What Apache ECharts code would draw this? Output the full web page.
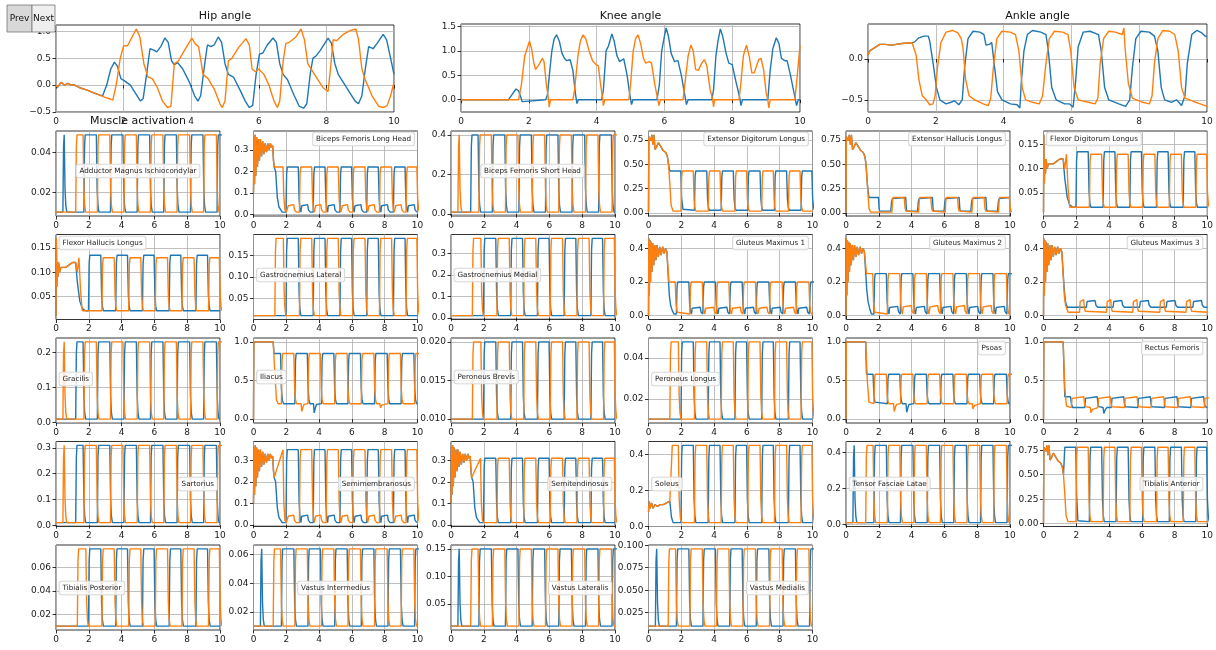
<!DOCTYPE html>
<html>
<head>
<meta charset="utf-8">
<script src="https://cdn.jsdelivr.net/npm/echarts@6/dist/echarts.min.js"></script>
<style>
  html, body { margin: 0; padding: 0; background: #fff; }
  #chart { width: 1216px; height: 650px; }
</style>
</head>
<body>
<div id="chart"></div>
<script>
// ---------- data ----------
const X_TICKS = [0, 2, 4, 6, 8, 10];
const HIP_TICKS = [-0.5, 0, 0.5, 1.0];
const KNEE_TICKS = [0, 0.5, 1.0, 1.5];
const ANKLE_TICKS = [-0.5, 0];

// joint angles, [time, value]
const hipBlue = [[0,0],[0.05,-0.04],[0.15,0.05],[0.25,0],[0.35,0.03],[0.45,0],[0.55,0],[0.7,-0.05],[0.9,-0.09],[1.1,-0.14],[1.3,-0.19],[1.38,-0.2],
  [1.5,0],[1.62,0.3],[1.73,0.43],[1.82,0.35],[1.92,0.12],[2.05,0.07],[2.2,0],[2.35,-0.15],[2.5,-0.3],[2.58,-0.25],[2.68,0.2],[2.78,0.68],[2.88,0.66],[2.98,0.62],[3.1,0.72],[3.22,0.88],[3.32,0.8],[3.42,0.45],[3.5,0.38],[3.6,0.42],[3.75,0.3],[3.95,0.05],[4.1,-0.2],[4.2,-0.3],[4.28,-0.2],[4.4,0.4],[4.48,0.75],[4.58,0.72],[4.68,0.75],[4.8,0.9],[4.9,0.8],[5.0,0.4],[5.1,0.2],[5.25,0.15],[5.45,-0.1],[5.6,-0.3],[5.72,-0.42],[5.82,-0.38],[5.92,0.2],[6.02,0.58],[6.12,0.6],[6.25,0.75],[6.42,0.88],[6.52,0.8],[6.62,0.4],[6.72,0.2],[6.85,0.1],[7.05,-0.2],[7.2,-0.4],[7.33,-0.43],[7.42,-0.35],[7.52,0.2],[7.6,0.5],[7.7,0.55],[7.82,0.65],[8.05,0.88],[8.15,0.78],[8.25,0.4],[8.35,0.2],[8.5,0.05],[8.7,-0.15],[8.85,-0.3],[8.95,-0.35],[9.05,-0.2],[9.15,0.3],[9.25,0.72],[9.38,0.68],[9.5,0.78],[9.68,0.95],[9.78,0.85],[9.9,0.5],[10,0.2]];
const hipOrange = [[0,0],[0.05,-0.04],[0.15,0.05],[0.25,0],[0.35,0.03],[0.45,0],[0.55,0],[0.7,-0.05],[0.9,-0.09],[1.1,-0.14],[1.3,-0.19],[1.45,-0.23],[1.6,-0.26],[1.68,-0.28],
  [1.78,0],[1.9,0.5],[2.0,0.73],[2.12,0.74],[2.25,0.9],[2.38,1.05],[2.48,0.9],[2.6,0.4],[2.72,0.15],[2.85,0.12],[3.0,-0.05],[3.15,-0.3],[3.3,-0.42],[3.4,-0.4],[3.5,0.4],[3.62,0.45],[3.8,0.65],[4.02,0.88],[4.12,0.77],[4.22,0.72],[4.35,0.2],[4.5,0.12],[4.7,-0.1],[4.85,-0.35],[4.92,-0.42],[5.0,-0.3],[5.1,0.45],[5.2,0.5],[5.4,0.7],[5.62,0.87],[5.72,0.75],[5.8,0.3],[5.9,0.25],[6.0,0.3],[6.15,0.2],[6.3,0],[6.45,-0.3],[6.55,-0.42],[6.62,-0.3],[6.72,0.45],[6.8,0.78],[6.9,0.8],[7.1,0.9],[7.25,1.05],[7.35,0.85],[7.45,0.4],[7.55,0.3],[7.7,0.15],[7.9,-0.05],[8.05,-0.12],[8.12,0.3],[8.2,0.85],[8.3,0.83],[8.5,0.95],[8.7,1.02],[8.87,1.05],[8.95,0.85],[9.05,0.3],[9.15,0.1],[9.35,-0.2],[9.55,-0.4],[9.7,-0.42],[9.8,-0.38],[9.9,-0.2],[10,0.05]];
const kneeBlue = [[0,0],[1.4,0],[1.5,0.1],[1.62,0.22],[1.7,0.18],[1.78,0.02],[1.8,-0.04],[1.84,0],[2.5,0],[2.55,0.1],[2.62,0.6],[2.68,1.0],[2.75,1.25],[2.82,1.33],[2.9,1.2],[2.98,0.95],[3.05,0.85],[3.12,0.8],[3.22,0.82],[3.3,0.6],[3.38,0.1],[3.42,-0.08],[3.46,0],
  [4.15,0],[4.2,0.2],[4.28,1.0],[4.35,1.1],[4.45,1.35],[4.52,1.2],[4.6,0.9],[4.68,0.78],[4.8,0.84],[4.9,0.5],[4.98,0.1],[5.03,-0.1],[5.07,0],[5.78,0],[5.85,0.3],[5.92,1.0],[6.0,1.3],[6.05,1.47],[6.12,1.3],[6.2,0.95],[6.3,0.78],[6.4,0.8],[6.5,0.5],[6.6,0.1],[6.65,-0.1],[6.7,0],
  [7.4,0],[7.45,0.2],[7.52,0.9],[7.58,1.2],[7.65,1.45],[7.72,1.3],[7.82,0.95],[7.9,0.75],[8.0,0.72],[8.1,0.4],[8.22,0.05],[8.26,-0.12],[8.3,0],[9.05,0],[9.12,0.6],[9.2,1.05],[9.3,1.27],[9.38,1.15],[9.45,0.85],[9.55,0.8],[9.62,0.8],[9.72,0.5],[9.85,0.05],[9.9,-0.12],[9.95,0],[10,0]];
const kneeOrange = [[0,0],[1.7,0],[1.78,0.3],[1.88,0.9],[1.95,1.05],[2.02,1.2],[2.08,1.05],[2.15,0.75],[2.2,0.62],[2.3,0.72],[2.4,0.85],[2.45,0.78],[2.52,0.3],[2.58,0.02],[2.6,-0.15],[2.64,0],
  [3.3,0],[3.35,0.2],[3.45,0.9],[3.52,1.2],[3.6,1.33],[3.68,1.25],[3.78,1.0],[3.88,0.8],[3.98,0.72],[4.05,0.7],[4.12,0.3],[4.18,0.02],[4.2,-0.12],[4.24,0],[4.95,0],[5.0,0.3],[5.08,1.0],[5.15,1.25],[5.22,1.33],[5.3,1.15],[5.38,0.85],[5.45,0.75],[5.55,0.78],[5.62,0.75],[5.72,0.3],[5.8,0.02],[5.84,-0.12],[5.88,0],
  [6.55,0],[6.6,0.3],[6.7,0.9],[6.78,1.12],[6.85,1.0],[6.92,0.62],[7.0,0.6],[7.1,0.75],[7.18,0.82],[7.25,0.7],[7.35,0.2],[7.42,0.02],[7.45,-0.15],[7.48,0],[8.2,0],[8.25,0.3],[8.33,0.9],[8.42,1.12],[8.5,0.9],[8.58,0.55],[8.65,0.55],[8.78,0.82],[8.85,0.85],[8.93,0.6],[9.0,0.15],[9.05,0],[9.08,-0.17],[9.12,0],[9.85,0],[9.92,0.5],[10,1.12]];
const ankleBlue = [[0,0.05],[0.05,0.1],[0.2,0.14],[0.35,0.18],[0.5,0.18],[0.7,0.17],[1.0,0.19],[1.3,0.2],[1.38,0.21],[1.5,0.26],[1.65,0.28],[1.78,0.28],[1.82,0.22],[1.92,-0.05],[2.02,-0.35],[2.12,-0.5],[2.3,-0.55],[2.45,-0.53],[2.55,-0.51],[2.68,-0.56],[2.78,-0.5],[2.85,-0.1],[2.95,0.25],[3.1,0.34],[3.3,0.33],[3.42,0.3],[3.48,0.17],[3.58,0.18],[3.65,0.2],[3.72,-0.05],[3.82,-0.4],[3.95,-0.5],[4.2,-0.55],[4.4,-0.56],[4.48,-0.6],[4.52,-0.3],[4.6,0.1],[4.7,0.3],[4.85,0.35],[5.1,0.33],[5.25,0.3],[5.32,0.1],[5.42,-0.35],[5.55,-0.5],[5.8,-0.55],[5.95,-0.55],[6.05,-0.59],[6.12,-0.3],[6.2,0.15],[6.35,0.33],[6.55,0.34],[6.8,0.3],[6.88,0.1],[6.98,-0.35],[7.1,-0.5],[7.4,-0.55],[7.6,-0.58],[7.72,-0.5],[7.8,-0.1],[7.9,0.25],[8.05,0.34],[8.3,0.33],[8.45,0.28],[8.55,0.1],[8.65,-0.35],[8.75,-0.5],[8.95,-0.53],[9.1,-0.5],[9.25,-0.57],[9.35,-0.45],[9.42,-0.05],[9.55,0.3],[9.7,0.35],[9.85,0.32],[9.95,0.28],[10,0.27]];
const ankleOrange = [[0,0.05],[0.05,0.1],[0.2,0.14],[0.35,0.18],[0.5,0.18],[0.7,0.17],[1.0,0.19],[1.3,0.2],[1.35,0.21],[1.42,0.05],[1.5,-0.25],[1.6,-0.45],[1.72,-0.5],[1.82,-0.56],[1.92,-0.55],[1.98,-0.45],[2.05,-0.1],[2.15,0.2],[2.3,0.33],[2.5,0.35],[2.65,0.32],[2.7,0.33],[2.75,0.25],[2.8,0.15],[2.88,-0.25],[2.98,-0.45],[3.15,-0.5],[3.4,-0.55],[3.55,-0.57],[3.62,-0.48],[3.7,-0.1],[3.8,0.25],[3.95,0.34],[4.2,0.33],[4.35,0.3],[4.45,0.1],[4.55,-0.35],[4.65,-0.5],[4.85,-0.53],[5.05,-0.55],[5.15,-0.45],[5.25,-0.05],[5.35,0.25],[5.5,0.34],[5.75,0.33],[5.9,0.3],[5.98,0.1],[6.08,-0.35],[6.2,-0.5],[6.5,-0.53],[6.7,-0.55],[6.78,-0.48],[6.85,-0.05],[6.95,0.25],[7.1,0.34],[7.3,0.33],[7.5,0.3],[7.55,0.38],[7.58,0.15],[7.68,-0.3],[7.8,-0.48],[8.1,-0.53],[8.3,-0.55],[8.38,-0.45],[8.45,-0.05],[8.55,0.25],[8.7,0.35],[8.9,0.34],[9.05,0.3],[9.15,0.1],[9.25,-0.35],[9.35,-0.48],[9.6,-0.52],[9.8,-0.55],[10,-0.58]];

// muscle activation: on-intervals [start, end] of the square pulses
const SPIKE = [[0.42, 0.5]];
const S1 = [[1.2,1.65],[2.52,3.28],[4.14,4.9],[5.76,6.52],[7.38,8.15],[9.0,9.78]];
const S2 = [[1.7,2.46],[3.32,4.08],[4.95,5.71],[6.57,7.34],[8.2,8.96],[9.82,10.4]];
const G1 = [[1.3,1.82],[2.8,3.55],[4.43,5.17],[6.05,6.8],[7.68,8.42],[9.3,9.96]];
const G2 = [[1.98,2.73],[3.64,4.36],[5.27,5.98],[6.9,7.61],[8.53,9.24]];
const HAM_BUMP_B = [[2.9,3.3],[4.52,4.92],[6.15,6.55],[7.77,8.17],[9.4,9.8]];
const HAM_BUMP_O = [[2.08,2.45],[3.74,4.1],[5.37,5.73],[7.0,7.36],[8.63,9.0]];
const GM_BUMP_B = [[2.62,3.15],[4.25,4.78],[5.87,6.4],[7.5,8.03],[9.12,9.65]];
const GM_BUMP_O = [[3.45,3.98],[5.08,5.6],[6.7,7.22],[8.32,8.85]];
const GM3_BUMP_O = [[2.2,2.45],[3.85,4.1],[5.45,5.7],[7.1,7.35],[8.7,8.95]];

// start-up transients, [time, value]
const HAM_HEAD = [[0,0.1],[0.03,0.36],[0.06,0.14],[0.1,0.37],[0.14,0.18],[0.19,0.36],[0.24,0.22],[0.3,0.35],[0.36,0.25],[0.42,0.35],[0.49,0.27],[0.56,0.34],[0.63,0.28],[0.71,0.33],[0.79,0.29],[0.87,0.33],[0.95,0.3],[1.03,0.33],[1.1,0.31],[1.17,0.32],[1.22,0.25],[1.26,0.22]];
const GLUT_HEAD = [[0,0],[0.02,0.46],[0.05,0.12],[0.08,0.45],[0.12,0.2],[0.16,0.44],[0.21,0.26],[0.26,0.43],[0.32,0.3],[0.38,0.42],[0.45,0.33],[0.52,0.42],[0.6,0.35],[0.68,0.41],[0.77,0.36],[0.86,0.41],[0.95,0.37],[1.04,0.4],[1.12,0.38],[1.2,0.39]];
const EDL_HEAD = [[0,0.01],[0.02,0.78],[0.08,0.8],[0.15,0.74],[0.2,0.8],[0.27,0.7],[0.33,0.8],[0.4,0.65],[0.5,0.68],[0.6,0.72],[0.75,0.68],[0.9,0.64],[1.05,0.62],[1.15,0.58],[1.22,0.5]];
const FLEX_HEAD = [[0,0.01],[0.02,0.17],[0.05,0.07],[0.08,0.12],[0.12,0.09],[0.16,0.12],[0.22,0.1],[0.3,0.11],[0.45,0.11],[0.6,0.11],[0.8,0.115],[1.0,0.12],[1.2,0.12]];
const SOL_HEAD = [[0,0.08],[0.04,0.14],[0.1,0.1],[0.18,0.13],[0.28,0.1],[0.4,0.12],[0.55,0.11],[0.7,0.12],[0.9,0.12],[1.1,0.13],[1.3,0.14]];
const HIP_FLEX_HEAD = [[0,0],[0.02,1.0],[1.2,1.0]];

const MUSCLE_NAMES = [
  'Adductor Magnus Ischiocondylar', 'Biceps Femoris Long Head', 'Biceps Femoris Short Head', 'Extensor Digitorum Longus', 'Extensor Hallucis Longus', 'Flexor Digitorum Longus',
  'Flexor Hallucis Longus', 'Gastrocnemius Lateral', 'Gastrocnemius Medial', 'Gluteus Maximus 1', 'Gluteus Maximus 2', 'Gluteus Maximus 3',
  'Gracilis', 'Iliacus', 'Peroneus Brevis', 'Peroneus Longus', 'Psoas', 'Rectus Femoris',
  'Sartorius', 'Semimembranosus', 'Semitendinosus', 'Soleus', 'Tensor Fasciae Latae', 'Tibialis Anterior',
  'Tibialis Posterior', 'Vastus Intermedius', 'Vastus Lateralis', 'Vastus Medialis'
];
const MUSCLE_TICKS = [
  [0.02, 0.04], [0, 0.1, 0.2, 0.3], [0, 0.2, 0.4], [0, 0.25, 0.5, 0.75], [0, 0.25, 0.5, 0.75], [0.05, 0.1, 0.15],
  [0.05, 0.1, 0.15], [0.05, 0.1, 0.15], [0, 0.1, 0.2, 0.3], [0, 0.2, 0.4], [0, 0.2, 0.4], [0, 0.2, 0.4],
  [0, 0.1, 0.2], [0, 0.5, 1.0], [0.01, 0.015, 0.02], [0.02, 0.04], [0, 0.5, 1.0], [0, 0.5, 1.0],
  [0, 0.1, 0.2, 0.3], [0, 0.1, 0.2, 0.3], [0, 0.1, 0.2, 0.3], [0, 0.2, 0.4], [0, 0.2, 0.4], [0, 0.25, 0.5, 0.75],
  [0.02, 0.04, 0.06], [0.02, 0.04, 0.06], [0.05, 0.1, 0.15], [0.025, 0.05, 0.075, 0.1]
];

// ---------- helpers ----------
function lvl(list, h) { return list.map(p => [p[0], p[1], h]); }
function build(head, lo, segs) {
  const pts = (head || [[0, lo]]).map(p => p.slice());
  const s = segs.slice().sort((p, q) => p[0] - q[0]);
  s.forEach(([a, b, h], i) => {
    const next = i + 1 < s.length ? s[i + 1][0] : 99;
    const d = h - lo;
    pts.push([a, lo], [a + 0.04, lo + d * 0.85], [a + 0.08, h], [b, h]);
    [[0.05, 0.3], [0.1, 0.08], [0.16, 0]].forEach(([dt, f]) => {
      if (b + dt < next) pts.push([b + dt, lo + d * f]);
    });
  });
  if (pts[pts.length - 1][0] < 10) pts.push([10, pts[pts.length - 1][1]]);
  return pts;
}

const LO = 0.01;
const muscleBlue = [
  build(null, LO, lvl(SPIKE, 0.049).concat(lvl(S2, 0.049))),
  build(HAM_HEAD.concat([[1.35,0.2],[1.45,0.08],[1.55,0.035],[1.75,0.01]]), LO, lvl(G2, 0.22).concat(lvl(HAM_BUMP_B, 0.045))),
  build(null, LO, lvl(S1, 0.40)),
  build(EDL_HEAD.concat([[1.3,0.43],[1.97,0.43],[2.02,0.15],[2.1,0.04]]), 0.03, lvl(G1.slice(1), 0.43)),
  build(EDL_HEAD.concat([[1.3,0.3],[1.4,0.16]]), 0.16, lvl(G2, 0.02)),
  build(FLEX_HEAD.concat([[1.3,0.08],[1.45,0.04],[1.6,0.025],[1.8,0.02]]), 0.02, lvl(G2, 0.135)),
  build(FLEX_HEAD.concat([[1.3,0.08],[1.45,0.04],[1.6,0.025],[1.8,0.02]]), 0.02, lvl(G2, 0.135)),
  build(null, LO, lvl(G2, 0.19)),
  build(null, LO, lvl(G2, 0.37)),
  build(GLUT_HEAD.concat([[1.27,0.12],[1.35,0.06],[1.45,0.03],[1.55,0.01]]), LO, lvl(S2, 0.2).concat(lvl(GM_BUMP_B, 0.05))),
  build(GLUT_HEAD.concat([[1.27,0.15],[1.35,0.08],[1.45,0.04],[1.55,0.01]]), LO, lvl(S2, 0.25).concat(lvl(GM_BUMP_B, 0.055))),
  build(GLUT_HEAD.concat([[1.27,0.15],[1.35,0.08],[1.45,0.05],[1.7,0.05]]), 0.05, lvl(GM_BUMP_B, 0.09)),
  build(null, LO, lvl(S1, 0.23)),
  build(HIP_FLEX_HEAD.concat([[1.25,0.85],[1.65,0.85],[1.7,0.4],[1.76,0.24],[1.84,0.2]]), 0.2, lvl(S1.slice(1), 0.85).concat([[3.66,3.74,0.06]])),
  build(null, LO, lvl(G2, 0.02)),
  build(null, LO, lvl(G2, 0.048)),
  build(HIP_FLEX_HEAD.concat([[1.25,0.58],[1.65,0.58],[1.7,0.32],[1.76,0.22],[1.84,0.2]]), 0.2, lvl(S1.slice(1), 0.58).concat([[3.66,3.74,0.07]])),
  build(HIP_FLEX_HEAD.concat([[1.3,0.29],[1.65,0.29],[1.7,0.2],[1.78,0.15]]), 0.15, lvl(S1.slice(1), 0.29).concat([[3.64,3.72,0.06]])),
  build(null, LO, lvl(S1, 0.31)),
  build(HAM_HEAD.concat([[1.35,0.2],[1.45,0.08],[1.55,0.035],[1.75,0.01]]), LO, lvl(G2, 0.35).concat(lvl(HAM_BUMP_B, 0.045))),
  build(HAM_HEAD.concat([[1.35,0.2],[1.45,0.08],[1.55,0.035],[1.75,0.01]]), LO, lvl(G2, 0.31)),
  build(SOL_HEAD.concat([[1.4,0.05],[1.5,0.02]]), 0.02, lvl(G2, 0.45)),
  build(null, LO, lvl(SPIKE, 0.44).concat(lvl(S2, 0.44))),
  build(EDL_HEAD.concat([[1.3,0.78],[1.97,0.78],[2.02,0.3],[2.1,0.03]]), 0.02, lvl(G1.slice(1), 0.78)),
  build(null, LO, lvl(G2, 0.076)),
  build(null, LO, lvl(SPIKE, 0.064).concat(lvl(S2, 0.064))),
  build(null, LO, lvl(SPIKE, 0.15).concat(lvl(S2, 0.15))),
  build(null, LO, lvl(SPIKE, 0.096).concat(lvl(S2, 0.096)))
];
const muscleOrange = [
  build(null, LO, lvl(S1, 0.049)),
  build(HAM_HEAD.concat([[1.8,0.22],[1.85,0.08],[1.92,0.02],[2.0,0.01]]), LO, lvl(G1.slice(1), 0.22).concat(lvl(HAM_BUMP_O, 0.045))),
  build(null, LO, lvl(SPIKE, 0.40).concat(lvl(S2, 0.40))),
  build(EDL_HEAD.concat([[1.3,0.3],[1.38,0.08],[1.5,0.02]]), 0.02, lvl(G2, 0.43)),
  build(EDL_HEAD.concat([[1.3,0.3],[1.4,0.05],[1.5,0.01]]), 0.01, lvl(G1.slice(1), 0.16)),
  build(FLEX_HEAD.concat([[1.3,0.1],[1.4,0.13],[1.5,0.06],[1.6,0.02]]), 0.02, lvl(G1.slice(1), 0.13)),
  build(FLEX_HEAD.concat([[1.3,0.1],[1.4,0.13],[1.5,0.06],[1.6,0.02]]), 0.02, lvl(G1.slice(1), 0.13)),
  build(null, LO, lvl(G1, 0.19)),
  build(null, LO, lvl(G1, 0.37)),
  build(GLUT_HEAD.concat([[1.25,0.2],[1.63,0.2],[1.68,0.07],[1.75,0.02],[1.85,0.01]]), LO, lvl(S1.slice(1), 0.2).concat(lvl(GM_BUMP_O, 0.05))),
  build(GLUT_HEAD.concat([[1.25,0.25],[1.63,0.25],[1.68,0.08],[1.75,0.02],[1.85,0.01]]), LO, lvl(S1.slice(1), 0.25).concat(lvl(GM_BUMP_O, 0.06))),
  build(GLUT_HEAD.concat([[1.27,0.12],[1.35,0.06],[1.5,0.02]]), 0.02, lvl(GM3_BUMP_O, 0.095)),
  build(null, LO, lvl(SPIKE, 0.23).concat(lvl(S2, 0.23))),
  build(HIP_FLEX_HEAD.concat([[1.3,0.6],[1.4,0.25],[1.5,0.2]]), 0.2, lvl(S2, 0.85).concat([[2.9,2.98,0.08],[7.7,7.78,0.14]])),
  build(null, LO, lvl(G1, 0.02)),
  build(null, LO, lvl(G1, 0.048)),
  build(HIP_FLEX_HEAD.concat([[1.3,0.5],[1.4,0.22],[1.5,0.2]]), 0.2, lvl(S2, 0.58).concat([[2.9,2.98,0.08],[7.7,7.78,0.12]])),
  build(HIP_FLEX_HEAD.concat([[1.3,0.4],[1.4,0.17],[1.5,0.15]]), 0.15, lvl(S2, 0.29).concat([[2.86,2.94,0.07]])),
  build(null, LO, lvl(SPIKE, 0.31).concat(lvl(S2, 0.31))),
  build(HAM_HEAD.concat([[1.8,0.35],[1.85,0.1],[1.92,0.02],[2.0,0.01]]), LO, lvl(G1.slice(1), 0.35).concat(lvl(HAM_BUMP_O, 0.045))),
  build(HAM_HEAD.concat([[1.8,0.31],[1.85,0.1],[1.92,0.02],[2.0,0.01]]), LO, lvl(G1.slice(1), 0.31)),
  build(SOL_HEAD.concat([[1.45,0.45],[1.82,0.45],[1.87,0.15],[1.95,0.04],[2.05,0.02]]), 0.02, lvl(G1.slice(1), 0.45)),
  build(null, LO, lvl(S1, 0.44)),
  build(EDL_HEAD.concat([[1.3,0.3],[1.38,0.08],[1.5,0.02]]), 0.02, lvl(G2, 0.78)),
  build(null, LO, lvl(G1, 0.076)),
  build(null, LO, lvl(S1, 0.064)),
  build(null, LO, lvl(S1, 0.15)),
  build(null, LO, lvl(S1, 0.096))
];

// ---------- layout ----------
const BLUE = '#1f77b4', ORANGE = '#ff7f0e';
const FONT = 'DejaVu Sans';
const COL_LEFT = [56, 253.5, 451, 648.5, 846, 1043.5];
const ROW_TOP = [131, 234.5, 338, 441.5, 545];
const CELL_W = 164, CELL_H = 85;
// legend anchor: [x, y, align]
const LEGEND_POS = [
  [138, 171, 'center'], [414, 139, 'right'], [532.5, 171, 'center'], [808, 139, 'right'], [1005, 139, 'right'], [1047, 139, 'left'],
  [59.5, 243, 'left'], [257, 275, 'left'], [454.5, 275, 'left'], [808, 243, 'right'], [1005, 243, 'right'], [1202.5, 243, 'right'],
  [59.5, 379, 'left'], [257, 377, 'left'], [454.5, 377, 'left'], [652, 379, 'left'], [1005, 348, 'right'], [1202.5, 348, 'right'],
  [217, 484, 'right'], [414, 484, 'right'], [611.5, 484, 'right'], [652, 484, 'left'], [849.5, 484, 'left'], [1202.5, 484, 'right'],
  [59.5, 588, 'left'], [335.5, 588, 'center'], [611.5, 588, 'right'], [808, 588, 'right']
];

const grids = [], xAxes = [], yAxes = [], series = [], graphics = [];

function decimals(ticks) {
  let d = 1;
  ticks.forEach(t => {
    const s = String(t);
    if (s.indexOf('.') >= 0) d = Math.max(d, s.split('.')[1].length);
  });
  return d;
}
function span(lists) {
  let lo = Infinity, hi = -Infinity;
  lists.forEach(l => l.forEach(p => {
    if (p[0] <= 10) { lo = Math.min(lo, p[1]); hi = Math.max(hi, p[1]); }
  }));
  const m = (hi - lo) * 0.05;
  return [lo - m, hi + m];
}

function addPanel(box, ticks, blue, orange) {
  const i = grids.length;
  grids.push({ left: box[0], top: box[1], width: box[2], height: box[3], show: true,
    borderColor: '#000', borderWidth: 0.8, backgroundColor: 'transparent' });
  const labelStyle = { color: '#1a1a1a', fontSize: 9, fontFamily: FONT };
  xAxes.push({ gridIndex: i, type: 'value', min: 0, max: 10, interval: 2,
    axisLine: { show: false },
    axisTick: { show: true, length: 3.5, lineStyle: { color: '#000', width: 0.8 } },
    axisLabel: Object.assign({ margin: 5, customValues: X_TICKS }, labelStyle),
    splitLine: { show: true, lineStyle: { color: '#b0b0b0', width: 0.8 } } });
  const [lo, hi] = span([blue, orange]);
  const dec = decimals(ticks);
  yAxes.push({ gridIndex: i, type: 'value', min: lo, max: hi,
    axisLine: { show: false },
    axisTick: { show: true, length: 3.5, customValues: ticks, lineStyle: { color: '#000', width: 0.8 } },
    axisLabel: Object.assign({ margin: 5, customValues: ticks,
      formatter: v => v.toFixed(dec).replace('-', '\u2212') }, labelStyle),
    splitLine: { show: true, lineStyle: { color: '#b0b0b0', width: 0.8 } } });
  [[blue, BLUE, 3], [orange, ORANGE, 4]].forEach(([d, c, z]) => {
    series.push({ type: 'line', xAxisIndex: i, yAxisIndex: i, data: d, showSymbol: false,
      lineStyle: { color: c, width: 1.4 }, itemStyle: { color: c }, z: z, animation: false, silent: true });
  });
}

addPanel([56, 25, 338, 87], HIP_TICKS, hipBlue, hipOrange);
addPanel([461, 24, 339, 88], KNEE_TICKS, kneeBlue, kneeOrange);
addPanel([868, 24, 339, 88], ANKLE_TICKS, ankleBlue, ankleOrange);
MUSCLE_NAMES.forEach((name, k) => {
  addPanel([COL_LEFT[k % 6], ROW_TOP[Math.floor(k / 6)], CELL_W, CELL_H], MUSCLE_TICKS[k], muscleBlue[k], muscleOrange[k]);
  const [x, y, align] = LEGEND_POS[k];
  graphics.push({ type: 'text', z: 50, silent: true,
    style: { text: name, x: x, y: y, align: align, verticalAlign: 'middle', fill: '#222',
      font: '7.2px "DejaVu Sans"', backgroundColor: 'rgba(255,255,255,0.8)', borderColor: '#d0d0d0',
      borderWidth: 0.8, borderRadius: 2, padding: [3, 3] } });
});

[['Hip angle', 225, 16], ['Knee angle', 630.5, 16], ['Ankle angle', 1037.5, 16], ['Muscle activation', 138, 121]].forEach(([t, x, y]) => {
  graphics.push({ type: 'text', z: 60, silent: true,
    style: { text: t, x: x, y: y, align: 'center', verticalAlign: 'middle', fill: '#111', font: '11px "DejaVu Sans"' } });
});
// Prev / Next buttons
graphics.push({ type: 'rect', z: 60, shape: { x: 7, y: 5, width: 25, height: 27 }, style: { fill: '#d8d8d8', stroke: '#777', lineWidth: 0.8 } });
graphics.push({ type: 'rect', z: 60, shape: { x: 32, y: 5, width: 23, height: 27 }, style: { fill: '#efefef', stroke: '#777', lineWidth: 0.8 } });
graphics.push({ type: 'text', z: 61, style: { text: 'Prev', x: 19.5, y: 18.5, align: 'center', verticalAlign: 'middle', fill: '#111', font: '9px "DejaVu Sans"' } });
graphics.push({ type: 'text', z: 61, style: { text: 'Next', x: 43.5, y: 18.5, align: 'center', verticalAlign: 'middle', fill: '#111', font: '9px "DejaVu Sans"' } });

const chart = echarts.init(document.getElementById('chart'), null, { renderer: 'canvas' });
chart.setOption({
  backgroundColor: '#fff',
  animation: false,
  grid: grids,
  xAxis: xAxes,
  yAxis: yAxes,
  series: series,
  graphic: graphics
});
</script>
</body>
</html>
